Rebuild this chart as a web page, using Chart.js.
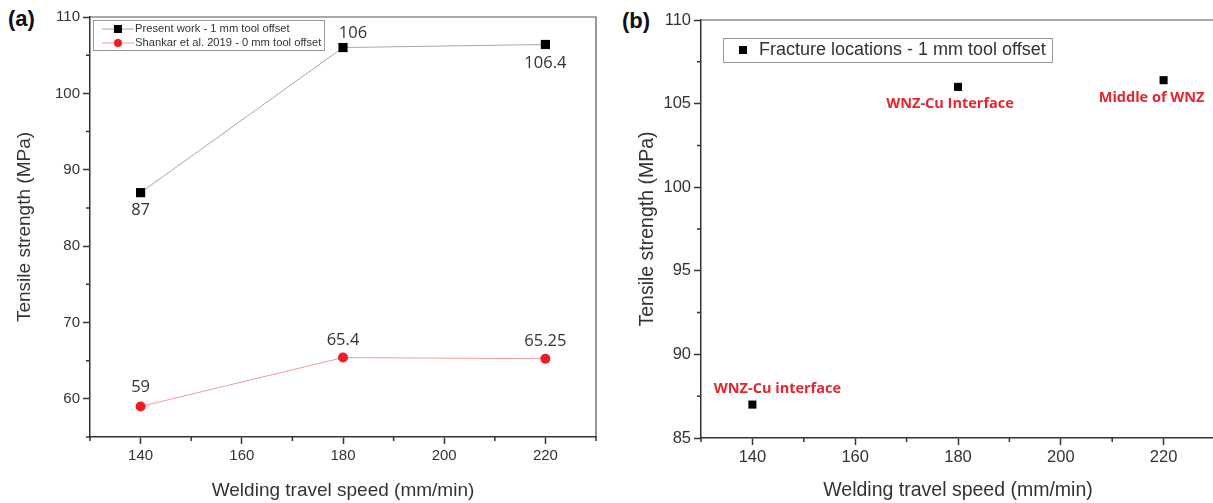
<!DOCTYPE html>
<html>
<head>
<meta charset="utf-8">
<script src="https://cdn.jsdelivr.net/npm/chart.js@4"></script>
<style>
  body { margin: 0; background: #fff; overflow: hidden; width: 1213px; height: 503px; position: relative; }
  canvas { position: absolute; top: 0; }
  #chart-a { left: 0; }
  #chart-b { left: 620px; }
  .tag { position: absolute; font: bold 22px "Liberation Sans", Arial, sans-serif; color: #111; }
</style>
</head>
<body>
<div class="tag" style="left:8px;top:6px">(a)</div>
<div class="tag" style="left:622px;top:8px">(b)</div>
<canvas id="chart-a" width="620" height="503"></canvas>
<canvas id="chart-b" width="620" height="503"></canvas>
<script>
// travel speeds (mm/min) and tensile strengths (MPa)
var speeds = [140, 180, 220];
var presentWork = [87, 106, 106.4];
var shankar2019 = [59, 65.4, 65.25];
var fractureStrength = [87, 106, 106.4];
var fractureLocations = ['WNZ-Cu interface', 'WNZ-Cu Interface', 'Middle of WNZ'];

var speedTicks = [140, 160, 180, 200, 220];
var speedMinor = [130, 150, 170, 190, 210, 230];
var strengthTicksA = [60, 70, 80, 90, 100, 110];
var strengthMinorA = [55, 65, 75, 85, 95, 105];
var strengthTicksB = [85, 90, 95, 100, 105, 110];
var strengthMinorB = [87.5, 92.5, 97.5, 102.5, 107.5];

var AXIS = '#333';
var SANS = '"Liberation Sans", Arial, sans-serif';
var LABEL_FONT = '"Open Sans", sans-serif';

function points(xs, ys) {
    return xs.map(function (x, i) { return {x: x, y: ys[i]}; });
}

// minor tick marks and the top/right frame lines
var frame = {
    id: 'frame',
    afterDraw: function (chart, args, opts) {
        var ctx = chart.ctx, a = chart.chartArea;
        var xs = chart.scales.x, ys = chart.scales.y;
        ctx.save();
        ctx.strokeStyle = AXIS;
        ctx.lineWidth = 1.5;
        ctx.beginPath();
        opts.minorX.forEach(function (v) {
            var px = xs.getPixelForValue(v);
            ctx.moveTo(px, a.bottom);
            ctx.lineTo(px, a.bottom + 4);
        });
        opts.minorY.forEach(function (v) {
            var py = ys.getPixelForValue(v);
            ctx.moveTo(a.left, py);
            ctx.lineTo(a.left - 4, py);
        });
        ctx.stroke();
        ctx.strokeStyle = '#555';
        ctx.lineWidth = 1.2;
        ctx.beginPath();
        ctx.moveTo(a.left, a.top);
        ctx.lineTo(a.right, a.top);
        ctx.lineTo(a.right, a.bottom);
        ctx.stroke();
        ctx.restore();
    }
};

// text next to each point, offsets given per point
var pointText = {
    id: 'pointText',
    afterDatasetsDraw: function (chart) {
        var ctx = chart.ctx;
        ctx.save();
        ctx.textAlign = 'center';
        ctx.textBaseline = 'middle';
        chart.data.datasets.forEach(function (ds, di) {
            if (!ds.pointText) return;
            var meta = chart.getDatasetMeta(di);
            ctx.font = ds.textFont;
            ctx.fillStyle = ds.textColor;
            meta.data.forEach(function (el, i) {
                var off = ds.textOffsets[i];
                ctx.fillText(ds.pointText[i], el.x + off[0], el.y + off[1]);
            });
        });
        ctx.restore();
    }
};

// boxed legend placed inside the plot area
var boxLegend = {
    id: 'boxLegend',
    afterDraw: function (chart, args, o) {
        var ctx = chart.ctx;
        ctx.save();
        ctx.fillStyle = '#fff';
        ctx.fillRect(o.x, o.y, o.w, o.h);
        ctx.strokeStyle = '#9a9a9a';
        ctx.lineWidth = 1;
        ctx.strokeRect(o.x + 0.5, o.y + 0.5, o.w, o.h);
        ctx.font = o.font;
        ctx.textBaseline = 'middle';
        chart.data.datasets.forEach(function (ds, i) {
            var cy = o.y + o.firstRow + i * o.rowHeight;
            var mx = o.x + o.markerX;
            if (ds.showLine) {
                ctx.strokeStyle = ds.borderColor;
                ctx.lineWidth = 1;
                ctx.beginPath();
                ctx.moveTo(mx - o.lineHalf, cy);
                ctx.lineTo(mx + o.lineHalf, cy);
                ctx.stroke();
            }
            ctx.fillStyle = ds.pointBackgroundColor;
            var r = o.markerSize;
            if (ds.pointStyle === 'circle') {
                ctx.beginPath();
                ctx.arc(mx, cy, r, 0, Math.PI * 2);
                ctx.fill();
            } else {
                ctx.fillRect(mx - r, cy - r, 2 * r, 2 * r);
            }
            ctx.fillStyle = '#333';
            ctx.fillText(ds.label, o.x + o.textX, cy);
        });
        ctx.restore();
    }
};

function axes(cfg) {
    return {
        x: {
            type: 'linear', min: 130, max: 230,
            afterBuildTicks: function (s) { s.ticks = speedTicks.map(function (v) { return {value: v}; }); },
            afterFit: function (s) { s.height = cfg.xHeight; },
            grid: {drawOnChartArea: false, tickLength: 7, tickColor: AXIS, tickWidth: 1.5},
            border: {color: AXIS, width: 1.5},
            ticks: {font: {family: SANS, size: cfg.tickSize}, color: AXIS, padding: 3, maxRotation: 0},
            title: {display: true, text: 'Welding travel speed (mm/min)', font: {family: SANS, size: cfg.titleSize},
                color: AXIS, padding: {top: 0, bottom: 1}}
        },
        y: {
            type: 'linear', min: cfg.yMin, max: 110,
            afterBuildTicks: function (s) { s.ticks = cfg.yTicks.map(function (v) { return {value: v}; }); },
            afterFit: function (s) { s.width = cfg.yWidth; },
            grid: {drawOnChartArea: false, tickLength: 7, tickColor: AXIS, tickWidth: 1.5},
            border: {color: AXIS, width: 1.5},
            ticks: {font: {family: SANS, size: cfg.tickSize}, color: AXIS, padding: 3},
            title: {display: true, text: 'Tensile strength (MPa)', font: {family: SANS, size: cfg.titleSize},
                color: AXIS, padding: {top: cfg.titlePad, bottom: 0}}
        }
    };
}

new Chart(document.getElementById('chart-a'), {
    type: 'line',
    data: {
        datasets: [{
            label: 'Present work - 1 mm tool offset',
            data: points(speeds, presentWork),
            showLine: true,
            borderColor: '#a8a8a8',
            borderWidth: 1,
            pointStyle: 'rect',
            pointRadius: 6.5,
            pointBackgroundColor: '#000',
            pointBorderWidth: 0,
            pointText: presentWork.map(String),
            textOffsets: [[0, 18], [10, -14], [0, 19]],
            textFont: '16.5px ' + LABEL_FONT,
            textColor: '#333'
        }, {
            label: 'Shankar et al. 2019 - 0 mm tool offset',
            data: points(speeds, shankar2019),
            showLine: true,
            borderColor: '#f29a9a',
            borderWidth: 1,
            pointStyle: 'circle',
            pointRadius: 5,
            pointBackgroundColor: '#ee1c24',
            pointBorderWidth: 0,
            pointText: shankar2019.map(String),
            textOffsets: [[0, -19], [0, -17], [0, -17]],
            textFont: '16.5px ' + LABEL_FONT,
            textColor: '#333'
        }]
    },
    options: {
        responsive: false,
        animation: false,
        layout: {padding: {top: 17, right: 24, left: 0, bottom: 0}},
        scales: axes({xHeight: 66, yWidth: 90, yMin: 55, yTicks: strengthTicksA, titlePad: 13,
            tickSize: 15, titleSize: 19}),
        plugins: {
            legend: {display: false},
            tooltip: {enabled: false},
            frame: {minorX: speedMinor, minorY: strengthMinorA},
            boxLegend: {x: 93, y: 20, w: 231, h: 30, firstRow: 9, rowHeight: 14, markerX: 25, lineHalf: 16,
                markerSize: 4, textX: 42, font: '11.2px ' + SANS}
        }
    },
    plugins: [frame, pointText, boxLegend]
});

new Chart(document.getElementById('chart-b'), {
    type: 'line',
    data: {
        datasets: [{
            label: 'Fracture locations - 1 mm tool offset',
            data: points(speeds, fractureStrength),
            showLine: false,
            borderColor: '#000',
            pointStyle: 'rect',
            pointRadius: 5.7,
            pointBackgroundColor: '#000',
            pointBorderWidth: 0,
            pointText: fractureLocations,
            textOffsets: [[25, -16], [-8, 17], [-12, 18]],
            textFont: 'bold 14.5px ' + LABEL_FONT,
            textColor: '#e3262f'
        }]
    },
    options: {
        responsive: false,
        animation: false,
        layout: {padding: {top: 20, right: 25, left: 0, bottom: 0}},
        scales: axes({xHeight: 65, yWidth: 81, yMin: 85, yTicks: strengthTicksB, titlePad: 16,
            tickSize: 16.5, titleSize: 19.5}),
        plugins: {
            legend: {display: false},
            tooltip: {enabled: false},
            frame: {minorX: speedMinor, minorY: strengthMinorB},
            boxLegend: {x: 103, y: 38, w: 329, h: 24, firstRow: 12, rowHeight: 0, markerX: 20, lineHalf: 0,
                markerSize: 4, textX: 36, font: '18px ' + SANS}
        }
    },
    plugins: [frame, pointText, boxLegend]
});
</script>
</body>
</html>
